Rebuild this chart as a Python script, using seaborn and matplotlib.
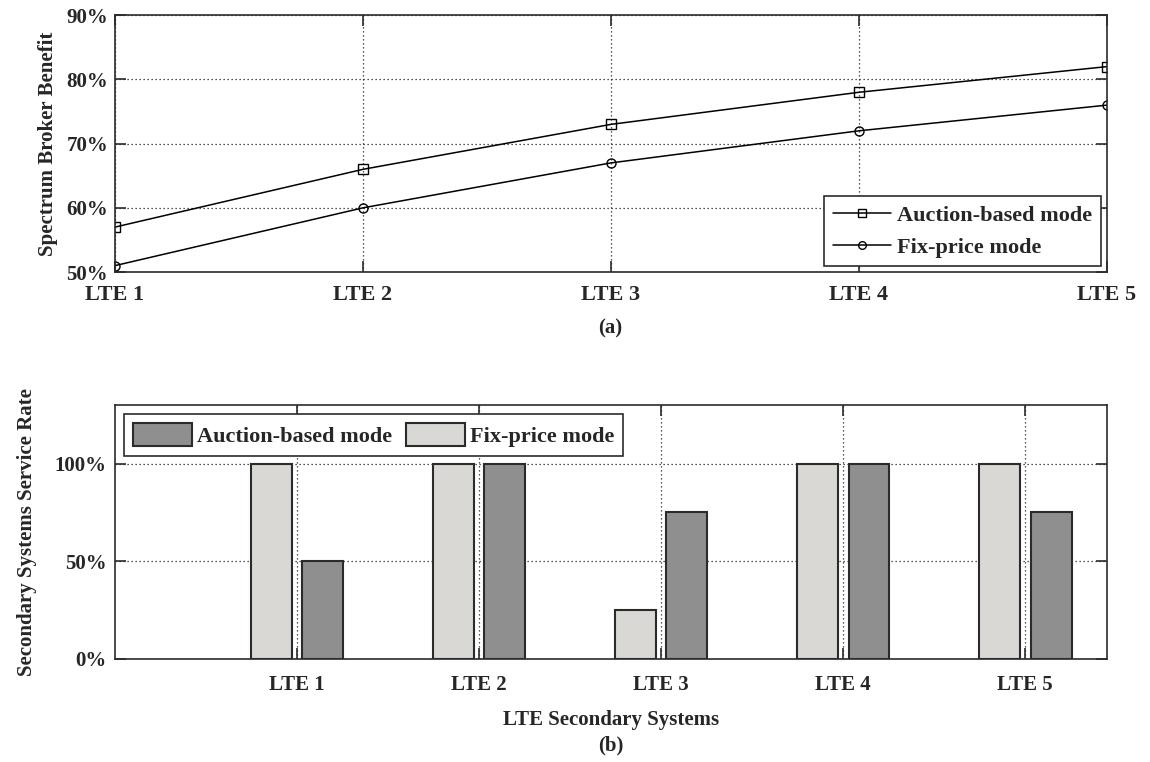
import matplotlib
matplotlib.use("Agg")
import matplotlib.pyplot as plt
import seaborn as sns
import pandas as pd
from matplotlib.patches import Patch
from matplotlib.ticker import FuncFormatter

# Systems and results
systems = ["LTE 1", "LTE 2", "LTE 3", "LTE 4", "LTE 5"]
broker_auction = [57, 66, 73, 78, 82]
broker_fixprice = [51, 60, 67, 72, 76]
service_auction = [50, 100, 75, 100, 75]
service_fixprice = [100, 100, 25, 100, 100]

AUCTION = "Auction-based mode"
FIXPRICE = "Fix-price mode"
DARK = "#8f8f8f"
LIGHT = "#dad8d4"
EDGE = "#2b2b2b"

sns.set_theme(style="white")
plt.rcParams["font.family"] = ["Liberation Serif", "DejaVu Serif"]
plt.rcParams["font.weight"] = "bold"
plt.rcParams["axes.labelweight"] = "bold"

fig = plt.figure(figsize=(11.5, 7.62), dpi=100)
ax1 = fig.add_axes([0.1, 0.643, 0.8626, 0.337])
ax2 = fig.add_axes([0.1, 0.1352, 0.8626, 0.3333])

pct = FuncFormatter(lambda v, _: f"{v:.0f}%")


def frame(ax):
    for s in ax.spines.values():
        s.set_visible(True)
        s.set_color(EDGE)
        s.set_linewidth(1.2)
    ax.tick_params(direction="in", length=8, width=1.2, color=EDGE,
                   top=True, right=True, bottom=True, left=True)
    ax.grid(True, linestyle=(0, (1, 2.2)), color="#222222", linewidth=0.9)
    ax.set_axisbelow(True)


# (a) spectrum broker benefit
xpos = list(range(1, len(systems) + 1))
lines = pd.DataFrame({
    "x": xpos * 2,
    "benefit": broker_auction + broker_fixprice,
    "mode": [AUCTION] * len(systems) + [FIXPRICE] * len(systems),
})
sns.lineplot(data=lines, x="x", y="benefit", style="mode", markers=["s", "o"],
             dashes=False, color="black", linewidth=1.1, markersize=6.5,
             markerfacecolor="none", markeredgecolor="black", markeredgewidth=1.0,
             ax=ax1, legend=False)
frame(ax1)
ax1.set_xlim(1, 5)
ax1.set_ylim(50, 90)
ax1.set_xticks(xpos)
ax1.set_xticklabels(systems, fontsize=16, fontweight="bold")
ax1.set_yticks([50, 60, 70, 80, 90])
ax1.yaxis.set_major_formatter(pct)
ax1.tick_params(axis="y", labelsize=15, pad=5)
ax1.tick_params(axis="x", pad=9)
ax1.set_xlabel("")
ax1.set_ylabel("Spectrum Broker Benefit", fontsize=15, fontweight="bold", labelpad=6)
h1 = [plt.Line2D([], [], color="black", lw=1.1, marker="s", ms=5.5, mfc="none"),
      plt.Line2D([], [], color="black", lw=1.1, marker="o", ms=5.5, mfc="none")]
leg1 = ax1.legend(h1, [AUCTION, FIXPRICE], loc="lower right", fontsize=16,
                  frameon=True, fancybox=False, edgecolor=EDGE, framealpha=1,
                  handlelength=2.6, handletextpad=0.3, borderaxespad=0.25,
                  labelspacing=0.5)
leg1.get_frame().set_linewidth(1.2)
fig.text(0.531, 0.5695, "(a)", ha="center", va="center", fontsize=15, fontweight="bold")

# (b) secondary systems service rate
bars = pd.DataFrame({
    "system": systems * 2,
    "rate": service_fixprice + service_auction,
    "mode": [FIXPRICE] * len(systems) + [AUCTION] * len(systems),
})
sns.barplot(data=bars, x="system", y="rate", hue="mode",
            hue_order=[FIXPRICE, AUCTION], palette=[LIGHT, DARK],
            width=0.57, gap=0.21, edgecolor=EDGE, linewidth=1.5,
            saturation=1, ax=ax2, legend=False)
frame(ax2)
ax2.set_xlim(-1, 4.45)
ax2.set_ylim(0, 130)
ax2.set_yticks([0, 50, 100])
ax2.yaxis.set_major_formatter(pct)
ax2.tick_params(axis="y", labelsize=15, pad=6)
ax2.tick_params(axis="x", labelsize=15, pad=11.5)
ax2.set_xlabel("LTE Secondary Systems", fontsize=15, fontweight="bold", labelpad=11)
ax2.set_ylabel("Secondary Systems Service Rate", fontsize=15, fontweight="bold", labelpad=13)
h2 = [Patch(facecolor=DARK, edgecolor=EDGE, linewidth=1.5),
      Patch(facecolor=LIGHT, edgecolor=EDGE, linewidth=1.5)]
leg2 = ax2.legend(h2, [AUCTION, FIXPRICE], loc="upper left", ncol=2, fontsize=16,
                  frameon=True, fancybox=False, edgecolor=EDGE, framealpha=1,
                  handlelength=2.65, handleheight=1.2, borderaxespad=0.4,
                  columnspacing=0.6, handletextpad=0.25)
leg2.get_frame().set_linewidth(1.2)
fig.text(0.531, 0.022, "(b)", ha="center", va="center", fontsize=15, fontweight="bold")

fig.savefig("out.png", dpi=100)
